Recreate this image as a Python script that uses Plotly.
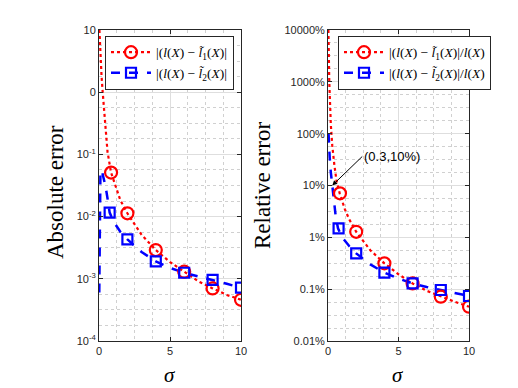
import plotly.graph_objects as go
from plotly.subplots import make_subplots

sig_red_abs = [0.03, 0.1, 0.18, 0.26, 0.35, 0.45, 0.6, 0.85, 1.2, 1.5, 2, 3, 4, 5, 6, 7, 8, 9, 10]
abs_red = [10, 3.5, 1.8, 1.0, 0.55, 0.3, 0.11, 0.051, 0.028, 0.0184, 0.0113, 0.0051, 0.0029,
           0.00186, 0.0013, 0.00091, 0.0007, 0.00055, 0.00046]
sig_blue_abs = [0.02, 0.05, 0.1, 0.19, 0.3, 0.47, 0.65, 0.75, 1, 1.5, 2, 3, 4, 5, 6, 7, 8, 9, 10]
abs_blue = [0.0006, 0.01, 0.05, 0.056, 0.045, 0.03, 0.0166, 0.0116, 0.0085, 0.0057, 0.0043,
            0.0027, 0.0019, 0.0015, 0.00125, 0.0011, 0.00096, 0.00083, 0.00072]

sig_red_rel = [0.03, 0.09, 0.2, 0.3, 0.45, 0.6, 0.83, 1.2, 1.5, 2, 3, 4, 5, 6, 7, 8, 9, 10]
rel_red = [10000, 1000, 150, 60, 25, 12.5, 7.06, 3.45, 2.24, 1.28, 0.565, 0.315, 0.194,
           0.129, 0.093, 0.0716, 0.057, 0.0459]
sig_blue_rel = [0.04, 0.07, 0.12, 0.2, 0.3, 0.4, 0.55, 0.71, 1, 1.5, 2, 3, 4, 5, 6, 7, 8, 9, 10]
rel_blue = [100, 60, 35, 18, 10, 5, 2.5, 1.49, 1.0, 0.68, 0.49, 0.3, 0.208, 0.16, 0.129,
            0.11, 0.0964, 0.084, 0.0738]

# marker positions
sig_mk_red = [0.85, 2, 4, 6, 8, 10]
sig_mk_blue = [0.75, 2, 4, 6, 8, 10]
abs_mk_red = [0.051, 0.0113, 0.0029, 0.0013, 0.0007, 0.00046]
abs_mk_blue = [0.0116, 0.0043, 0.0019, 0.00125, 0.00096, 0.00072]
rel_mk_red = [7.06, 1.28, 0.315, 0.129, 0.0716, 0.0459]
rel_mk_blue = [1.49, 0.49, 0.208, 0.129, 0.0964, 0.0738]

abs_ticks = [1e-4, 1e-3, 1e-2, 1e-1, 1, 10]
abs_ticktext = ['10<sup>-4</sup>', '10<sup>-3</sup>', '10<sup>-2</sup>', '10<sup>-1</sup>', '0', '10']
rel_ticks = [0.01, 0.1, 1, 10, 100, 1000, 10000]
rel_ticktext = ['0.01%', '0.1%', '1%', '10%', '100%', '1000%', '10000%']

lbl1 = '|(<i>l</i>(<i>X</i>) − <i>l̃</i><sub>1</sub>(<i>X</i>)|'
lbl2 = '|(<i>l</i>(<i>X</i>) − <i>l̃</i><sub>2</sub>(<i>X</i>)|'

RED = 'rgb(255,0,0)'
BLUE = 'rgb(0,0,255)'
AX = '#262626'

fig = make_subplots(rows=1, cols=2)


def add_panel(col, sr, yr, sb, yb, mr, mb, name1, name2, legend):
    fig.add_trace(go.Scatter(x=sr, y=yr, mode='lines', showlegend=False,
                             line=dict(color=RED, width=2.2, dash='dot')), row=1, col=col)
    fig.add_trace(go.Scatter(x=sb, y=yb, mode='lines', showlegend=False,
                             line=dict(color=BLUE, width=2.5, dash='dash')), row=1, col=col)
    fig.add_trace(go.Scatter(x=sig_mk_red, y=mr, mode='markers', showlegend=False,
                             marker=dict(symbol='circle-open', size=12, color=RED, line=dict(width=2.2))),
                  row=1, col=col)
    fig.add_trace(go.Scatter(x=sig_mk_blue, y=mb, mode='markers', showlegend=False,
                             marker=dict(symbol='square-open', size=10, color=BLUE, line=dict(width=2.2))),
                  row=1, col=col)
    # legend entries
    fig.add_trace(go.Scatter(x=[None], y=[None], mode='lines+markers', name=name1, legend=legend,
                             line=dict(color=RED, width=2.2, dash='dot'),
                             marker=dict(symbol='circle-open', size=12, color=RED, line=dict(width=2.2))),
                  row=1, col=col)
    fig.add_trace(go.Scatter(x=[None], y=[None], mode='lines+markers', name=name2, legend=legend,
                             line=dict(color=BLUE, width=2.5, dash='dash'),
                             marker=dict(symbol='square-open', size=10, color=BLUE, line=dict(width=2.2))),
                  row=1, col=col)


add_panel(1, sig_red_abs, abs_red, sig_blue_abs, abs_blue, abs_mk_red, abs_mk_blue, lbl1, lbl2, 'legend')
add_panel(2, sig_red_rel, rel_red, sig_blue_rel, rel_blue, rel_mk_red, rel_mk_blue,
          lbl1 + '/<i>l</i>(<i>X</i>)', lbl2 + '/<i>l</i>(<i>X</i>)', 'legend2')

tickfont = dict(family='Liberation Sans, Arial', size=11, color=AX)
xcommon = dict(range=[0, 10], tickvals=[0, 5, 10], showline=True, mirror='ticks', linecolor=AX,
               linewidth=1, ticks='inside', ticklen=4, tickcolor=AX, tickfont=tickfont,
               showgrid=True, gridcolor='#dedede', gridwidth=1, zeroline=False,
               minor=dict(tickvals=[1.25, 2.5, 3.75, 6.25, 7.5, 8.75], showgrid=True,
                          gridcolor='#d0d0d0', griddash='dot', gridwidth=1))
fig.update_xaxes(**xcommon)
fig.update_xaxes(domain=[99 / 518, 241 / 518], row=1, col=1)
fig.update_xaxes(domain=[328 / 518, 469 / 518], row=1, col=2)


def minor_vals(lo, hi):
    vals = []
    for k in range(lo, hi):
        for f in (0.25, 0.5, 0.75):
            vals.append(10 ** (k + f))
    return vals


ycommon = dict(type='log', showline=True, mirror='ticks', linecolor=AX, linewidth=1,
               ticks='inside', ticklen=4, tickcolor=AX, tickfont=tickfont,
               showgrid=True, gridcolor='#dedede', gridwidth=1, zeroline=False)
fig.update_yaxes(**ycommon)
fig.update_yaxes(range=[-4, 1], tickvals=abs_ticks, ticktext=abs_ticktext,
                 minor=dict(tickvals=minor_vals(-4, 1), showgrid=True, gridcolor='#d0d0d0',
                            griddash='dot', gridwidth=1), row=1, col=1)
fig.update_yaxes(range=[-2, 4], tickvals=rel_ticks, ticktext=rel_ticktext,
                 minor=dict(tickvals=minor_vals(-2, 4), showgrid=True, gridcolor='#d0d0d0',
                            griddash='dot', gridwidth=1), row=1, col=2)

legfont = dict(family='Liberation Serif, DejaVu Serif', size=13.5, color='black')
legcommon = dict(bgcolor='white', bordercolor=AX, borderwidth=1, font=legfont,
                 xanchor='left', yanchor='top', itemwidth=40, tracegroupgap=0,
                 xref='paper', yref='paper')

title_font = dict(family='Liberation Serif, DejaVu Serif', size=23, color='black')
sigma_font = dict(family='Liberation Serif, DejaVu Serif', size=21, color='black')
fig.update_layout(
    width=518, height=388, plot_bgcolor='white', paper_bgcolor='white',
    margin=dict(l=0, r=0, t=30, b=47, autoexpand=False),
    legend=dict(x=105 / 518, y=0.981, **legcommon),
    legend2=dict(x=338 / 518, y=0.981, **legcommon),
    annotations=[
        dict(text='Absolute error', textangle=-90, x=55 / 518, y=(341 - 192) / 311,
             xref='paper', yref='paper', showarrow=False, font=title_font,
             xanchor='center', yanchor='middle'),
        dict(text='Relative error', textangle=-90, x=262 / 518, y=(341 - 186) / 311,
             xref='paper', yref='paper', showarrow=False, font=title_font,
             xanchor='center', yanchor='middle'),
        dict(text='<i>σ</i>', x=170 / 518, y=(341 - 375) / 311, xref='paper', yref='paper',
             showarrow=False, font=sigma_font, xanchor='center', yanchor='middle'),
        dict(text='<i>σ</i>', x=398 / 518, y=(341 - 375) / 311, xref='paper', yref='paper',
             showarrow=False, font=sigma_font, xanchor='center', yanchor='middle'),
        dict(text='(0.3,10%)', x=0.3, y=1, xref='x2', yref='y2', ax=30, ay=-29,
             xanchor='left', yanchor='middle', showarrow=True, arrowhead=2, arrowsize=1,
             arrowwidth=1, arrowcolor='black',
             font=dict(family='Liberation Sans, Arial', size=13, color='black')),
    ],
)

# page body has a default 8px margin; drop it so the figure sits at the window corner
fig.write_html("out.html", config={'displayModeBar': False},
               post_script="document.body.style.margin='0px';")
